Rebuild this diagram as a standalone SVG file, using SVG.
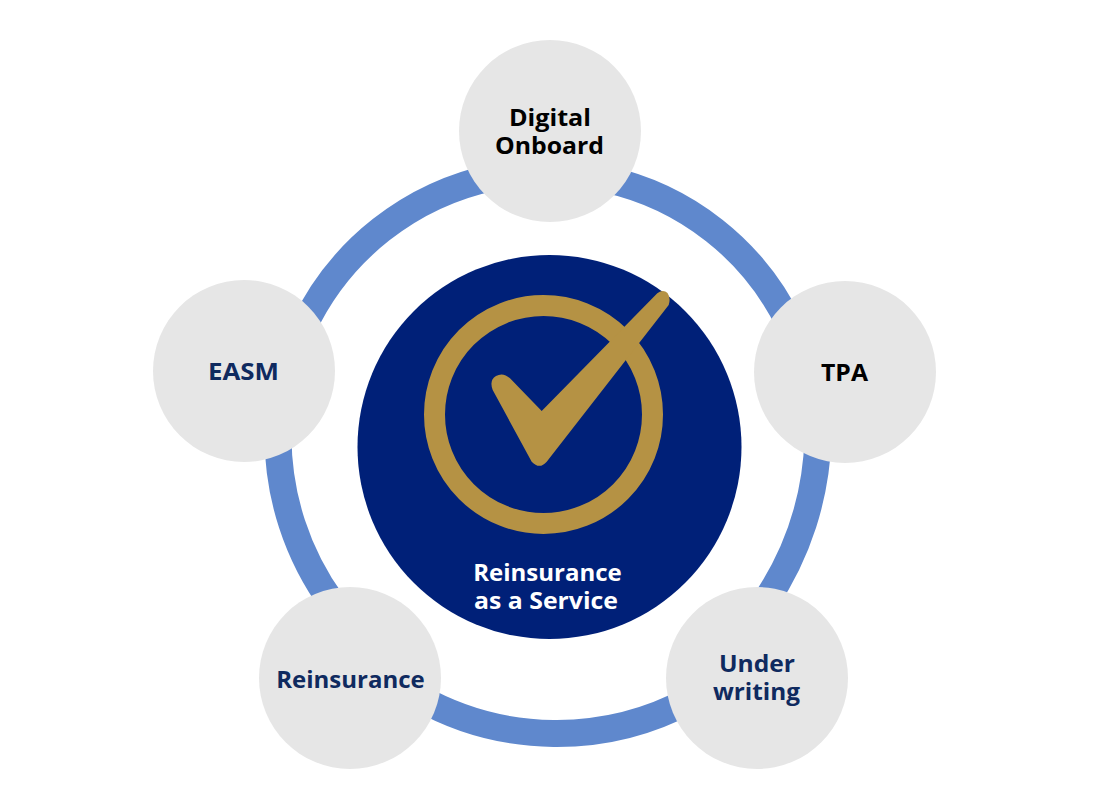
<svg xmlns="http://www.w3.org/2000/svg" width="1097" height="805" viewBox="0 0 1097 805">
<style>
.node{fill:#e6e6e6}
.arc{fill:none;stroke:#5f88cd;stroke-width:27}
text{font-family:"Open Sans","Noto Sans","Liberation Sans",sans-serif;font-weight:700;font-size:24px;text-anchor:middle}
.k{fill:#000}
.n{fill:#0f2a5f}
.w{fill:#fff}
</style>
<rect width="1097" height="805" fill="#fff"/>
<g id="connectors">
<path class="arc" d="M605 179A268 268 0 0 1 790 325"/>
<path class="arc" d="M818 437A310 310 0 0 1 765 602"/>
<path class="arc" d="M690 700A282 282 0 0 1 418 697"/>
<path class="arc" d="M333 604A285 285 0 0 1 278 435"/>
<path class="arc" d="M303 328A272 272 0 0 1 495 177"/>
</g>
<g id="center">
<circle cx="549.5" cy="447" r="192" fill="#002078"/>
<circle cx="543.5" cy="414.5" r="109" fill="none" stroke="#b59244" stroke-width="21"/>
<path d="M541.7 411L657.3 293.3Q663 289 667.5 293Q671 298 668.7 305L546.7 461.7Q539.5 470 531.7 461.7L492.7 390Q489 380 496 376Q503 372 510 378.3Z" fill="#b59244"/>
<text class="w" x="547.5" y="581">Reinsurance</text>
<text class="w" x="546" y="609" textLength="144" lengthAdjust="spacingAndGlyphs">as a Service</text>
</g>
<g id="digital-onboard"><circle class="node" cx="550" cy="131" r="91"/><text class="k" x="550" y="126" textLength="82" lengthAdjust="spacingAndGlyphs">Digital</text><text class="k" x="549.5" y="154" textLength="109" lengthAdjust="spacingAndGlyphs">Onboard</text></g>
<g id="tpa"><circle class="node" cx="845" cy="372" r="91"/><text class="k" x="844.5" y="381" textLength="47" lengthAdjust="spacingAndGlyphs">TPA</text></g>
<g id="underwriting"><circle class="node" cx="757" cy="678" r="91"/><text class="n" x="757" y="672" textLength="76" lengthAdjust="spacingAndGlyphs">Under</text><text class="n" x="756.5" y="700" textLength="87" lengthAdjust="spacingAndGlyphs">writing</text></g>
<g id="reinsurance"><circle class="node" cx="350" cy="678" r="91"/><text class="n" x="350.5" y="688">Reinsurance</text></g>
<g id="easm"><circle class="node" cx="244" cy="371" r="91"/><text class="n" x="243.5" y="380" textLength="71" lengthAdjust="spacingAndGlyphs">EASM</text></g>
</svg>
